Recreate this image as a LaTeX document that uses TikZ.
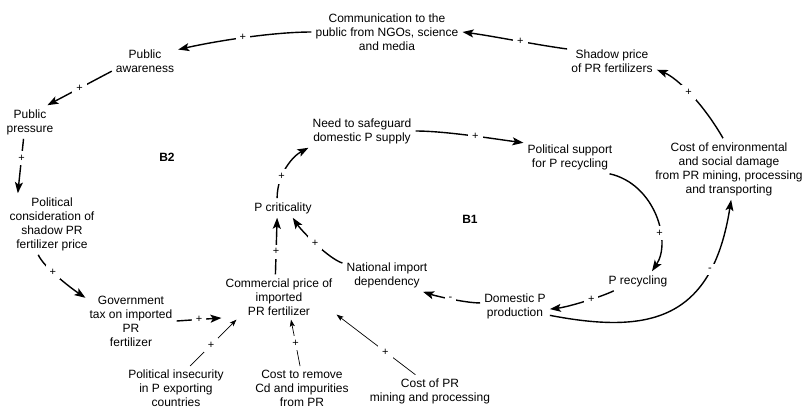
\documentclass[tikz,border=0pt]{standalone}
\usepackage{fontspec}
\setmainfont{Liberation Sans}
\usetikzlibrary{arrows.meta}
\begin{document}
\begin{tikzpicture}[x=1pt,y=-1pt,
  every node/.style={font=\fontsize{12}{14}\selectfont},
  box/.style={align=center, inner sep=4pt},
  arr/.style={line width=1.4pt, -{Stealth[length=11pt,width=8pt,inset=2.5pt]}},
  thinarr/.style={line width=0.7pt, -{Stealth[length=7pt,width=5pt,inset=1.5pt]}},
  sgn/.style={fill=white, inner sep=4pt, font=\fontsize{11}{11}\selectfont},
  loopname/.style={font=\fontsize{12}{14}\selectfont\bfseries}
]
\useasboundingbox (0,0) rectangle (804,408);

\node[box] (comm) at (387,32) {Communication to the\\public from NGOs, science\\and media};
\node[box] (aware) at (145,61) {Public\\awareness};
\node[box] (shadow) at (612,61) {Shadow price\\of PR fertilizers};
\node[box] (press) at (30,122) {Public\\pressure};
\node[loopname] (b2) at (167,157) {B2};
\node[box] (polcons) at (52,224) {Political\\consideration of\\shadow PR\\fertilizer price};
\node[box] (gov) at (131,321) {Government\\tax on imported\\PR\\fertilizer};
\node[box] (cprice) at (279,297) {Commercial price of\\imported\\PR fertilizer};
\node[box] (crit) at (283,208) {P criticality};
\node[box] (need) at (362,131) {Need to safeguard\\domestic P supply};
\node[box] (polsup) at (570,157) {Political support\\for P recycling};
\node[box] (costenv) at (729,169) {Cost of environmental\\and social damage\\from PR mining, processing\\and transporting};
\node[loopname] (b1) at (470,219) {B1};
\node[box] (natimp) at (387,275) {National import\\dependency};
\node[box] (domp) at (515,306) {Domestic P\\production};
\node[box] (precyc) at (638,281) {P recycling};
\node[box] (polins) at (176,388.5) {Political insecurity\\in P exporting\\countries};
\node[box] (costrem) at (302,388.5) {Cost to remove\\Cd and impurities\\from PR};
\node[box] (costpr) at (430,391.5) {Cost of PR\\mining and processing};

% B2 loop
\draw[arr] (shadow.165) .. controls +(-30,-4) and +(30,4) .. node[sgn,pos=0.45]{+} (comm.east);
\draw[arr] (comm.west) .. controls +(-40,0) and +(35,-8) .. node[sgn,pos=0.5]{+} (aware.19);
\draw[arr] (aware.197) -- node[sgn,pos=0.5]{+} (press.44);
\draw[arr] (press.249) -- node[sgn,pos=0.35]{+} (polcons.138);
\draw[arr] (polcons.246) .. controls +(5,12) and +(-15,-10) .. node[sgn,pos=0.4]{+} (gov.153);
\draw[arr] (gov.east) -- node[sgn,pos=0.5]{+} (cprice.200);
\draw[arr] (costenv.101) .. controls +(-20,-35) and +(20,8) .. node[sgn,pos=0.52]{+} (shadow.-11);

% inputs to commercial price
\draw[thinarr] (polins.58) -- node[sgn,pos=0.45]{+} (cprice.208);
\draw[thinarr] (costrem.95) -- node[sgn,pos=0.5]{+} (cprice.298);
\draw[thinarr] (costpr.131) -- node[sgn,pos=0.38]{+} (cprice.-17);

% B1 loop
\draw[arr] (cprice.99.5) -- node[sgn,pos=0.4]{+} (crit.239);
\draw[arr] (natimp.165) .. controls +(-15,-5) and +(8,12) .. node[sgn,pos=0.5]{+} (crit.315);
\draw[arr] (crit.121) .. controls +(0,-25) and +(-15,8) .. node[sgn,pos=0.32]{+} (need.south west);
\draw[arr] (need.east) .. controls +(30,0) and +(-30,-4) .. node[sgn,pos=0.55]{+} (polsup.163);
\draw[arr] (polsup.-23) .. controls +(45,10) and +(20,-30) .. node[sgn,pos=0.65]{+} (precyc.35);
\draw[arr] (precyc.202) .. controls +(-12,6) and +(18,-2) .. node[sgn,pos=0.4]{+} (domp.-5);
\draw[arr] (domp.175) .. controls +(-15,0) and +(12,4) .. node[sgn,pos=0.5]{-} (natimp.-25);
\draw[arr] (domp.-15.5) .. controls +(99,19) and +(-19,121) .. node[sgn,pos=0.76]{-} (costenv.274);
\end{tikzpicture}
\end{document}
